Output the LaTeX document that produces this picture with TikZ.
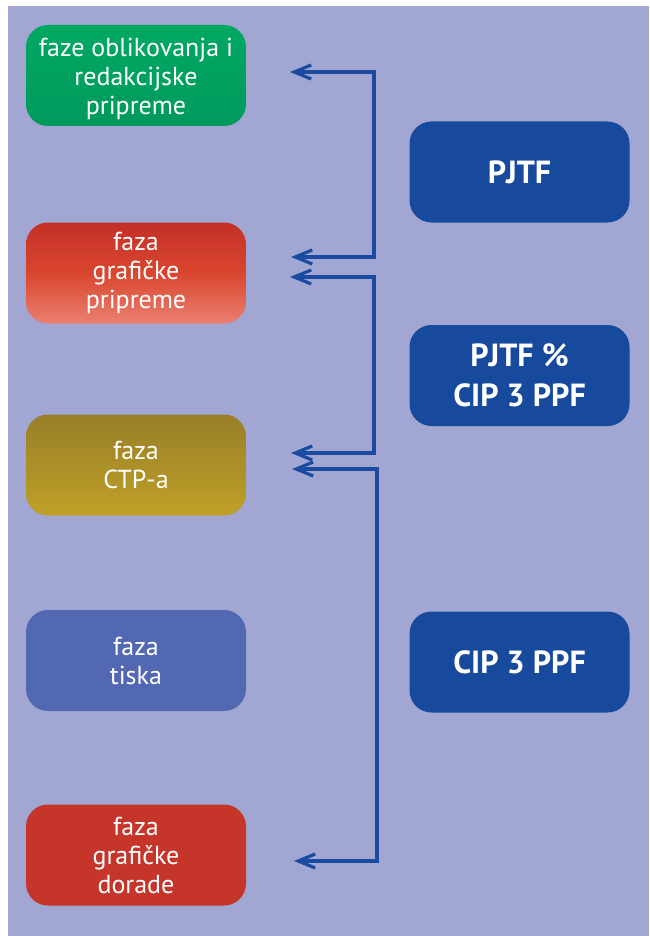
\documentclass[tikz,border=0pt]{standalone}
\usepackage{fontspec}
\setmainfont{PT Sans}
\usetikzlibrary{arrows.meta}
\definecolor{bgc}{HTML}{A1A7D2}
\definecolor{darkblue}{HTML}{174A9C}
\definecolor{arrowc}{HTML}{1A4BA0}
\definecolor{greenT}{HTML}{00A862}
\definecolor{greenB}{HTML}{009A5C}
\definecolor{redT}{HTML}{C42F27}
\definecolor{redM}{HTML}{D9462F}
\definecolor{redB}{HTML}{EA8070}
\definecolor{oliveT}{HTML}{987E28}
\definecolor{oliveB}{HTML}{BFA128}
\definecolor{blueBox}{HTML}{5268B3}
\definecolor{redDark}{HTML}{C5352A}
\begin{document}
\begin{tikzpicture}[x=1pt,y=-1pt,
  phasebox/.style={rounded corners=22pt, minimum width=220pt, minimum height=101pt,
    inner sep=0pt, align=center, text=white, font=\fontsize{26}{29}\selectfont},
  toolbox/.style={rounded corners=22pt, minimum width=220pt, minimum height=101pt,
    inner sep=0pt, align=center, text=white, fill=darkblue, font=\fontsize{32}{40}\selectfont\bfseries},
  link/.style={draw=arrowc, line width=3.4pt, -{Straight Barb[length=17pt,width=14pt,line width=3.2pt]}}]
\useasboundingbox (0,0) rectangle (649,936);
\fill[white] (0,0) rectangle (649,936);
\fill[bgc] (8,6) rectangle (649,936);
% left phase boxes
\node[phasebox, top color=greenT, bottom color=greenB] (p1) at (136,75.5) {\rule{0pt}{25pt}faze oblikovanja i\\redakcijske\\pripreme};
\node[phasebox, top color=redT, bottom color=redB, middle color=redM] (p2) at (136,273) {faza\\grafičke\\pripreme};
\node[phasebox, top color=oliveT, bottom color=oliveB] (p3) at (136,465) {faza\\CTP-a};
\node[phasebox, fill=blueBox] (p4) at (136,660.5) {faza\\tiska};
\node[phasebox, fill=redDark] (p5) at (136,855) {faza\\grafičke\\dorade};
% right tool boxes
\node[toolbox] (t1) at (519.5,172) {PJTF};
\node[toolbox] (t2) at (519.5,375.5) {PJTF \%\\CIP 3 PPF};
\node[toolbox] (t3) at (519.5,662) {CIP 3 PPF};
% connector coordinates
\coordinate (a1) at (290,72);
\coordinate (a1c) at (374,72);
\coordinate (a2c) at (374,257);
\coordinate (a2) at (291,257);
\coordinate (b1) at (290,277);
\coordinate (b1c) at (374,277);
\coordinate (b2c) at (374,453);
\coordinate (b2) at (291,453);
\coordinate (c1) at (292,469);
\coordinate (c1c) at (377,469);
\coordinate (c2c) at (377,861);
\coordinate (c2) at (294,861);
\draw[link] (a2c) -- (a1c) -- (a1);
\draw[link] (a1c) -- (a2c) -- (a2);
\draw[link] (b2c) -- (b1c) -- (b1);
\draw[link] (b1c) -- (b2c) -- (b2);
\draw[link] (c2c) -- (c1c) -- (c1);
\draw[link] (c1c) -- (c2c) -- (c2);
\end{tikzpicture}
\end{document}
